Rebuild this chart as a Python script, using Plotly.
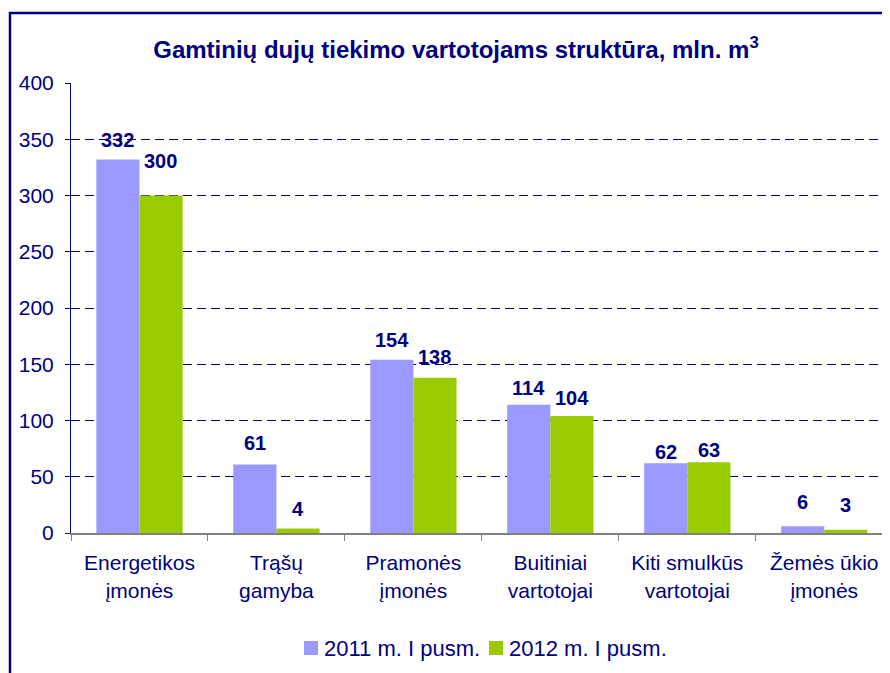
import plotly.graph_objects as go

categories = ["Energetikos<br>įmonės", "Trąšų<br>gamyba", "Pramonės<br>įmonės",
              "Buitiniai<br>vartotojai", "Kiti smulkūs<br>vartotojai", "Žemės ūkio<br>įmonės"]
series_names = ["2011 m. I pusm.", "2012 m. I pusm."]
series_2011 = [332, 61, 154, 114, 62, 6]
series_2012 = [300, 4, 138, 104, 63, 3]
y_ticks = [0, 50, 100, 150, 200, 250, 300, 350, 400]

# label placement (pixels above bar top, as in the reference)
label_lift_2011 = [19.5, 21.5, 19.5, 17, 11.5, 24.5]
label_lift_2012 = [35, 20, 20.5, 18.5, 12.5, 25]

NAVY = "#000080"
COLORS = ["#9999FF", "#99CC00"]
FONT = "Arial, Liberation Sans, sans-serif"

# page has an 8px body margin; figure sized to fit the window
OFF = 8
W, H = 890 - OFF, 673 - OFF
L, R, T = 71 - OFF, 0, 83 - OFF
B = H - (533 - OFF)
pw, ph = W - L - R, H - T - B


def px(page_x):
    return (page_x - OFF - L) / pw


def py(page_y):
    return ((533 - OFF) - (page_y - OFF)) / ph


fig = go.Figure()
for name, vals, col in zip(series_names, [series_2011, series_2012], COLORS):
    fig.add_trace(go.Bar(x=categories, y=vals, name=name,
                         marker=dict(color=col, line=dict(width=0))))

annotations = []
for i, cat in enumerate(categories):
    for v, xs, lift in ((series_2011[i], -21.5, label_lift_2011[i]),
                        (series_2012[i], 21.5, label_lift_2012[i])):
        annotations.append(dict(x=cat, y=v, xref="x", yref="y", text=f"<b>{v}</b>",
                                showarrow=False, xshift=xs, yshift=lift, yanchor="middle",
                                font=dict(family=FONT, size=20, color=NAVY)))

# legend drawn by hand for exact spacing
shapes = [dict(type="rect", xref="paper", yref="paper",
               x0=px(10), x1=1.2, y0=-0.6, y1=py(13),
               line=dict(color=NAVY, width=2.5), fillcolor="rgba(0,0,0,0)", layer="below")]
legend_x = [304, 489]
for name, col, lx in zip(series_names, COLORS, legend_x):
    shapes.append(dict(type="rect", xref="paper", yref="paper",
                       x0=px(lx), x1=px(lx + 14), y0=py(655), y1=py(641),
                       line=dict(width=0), fillcolor=col))
    annotations.append(dict(x=px(lx + 18), y=py(648), xref="paper", yref="paper",
                            text=name, showarrow=False, xanchor="left", yanchor="middle",
                            font=dict(family=FONT, size=22, color=NAVY)))

fig.update_layout(
    width=W, height=H,
    margin=dict(l=L, r=R, t=T, b=B),
    paper_bgcolor="white", plot_bgcolor="white",
    barmode="group", bargap=0.37, bargroupgap=0,
    showlegend=False,
    font=dict(family=FONT, size=21, color=NAVY),
    title=dict(text="<b>Gamtinių dujų tiekimo vartotojams struktūra, mln. m<sup>3</sup></b>",
               x=(456 - OFF) / W, xanchor="center", y=1 - (50 - OFF) / H, yanchor="middle",
               font=dict(family=FONT, size=24, color=NAVY)),
    xaxis=dict(range=[-0.5, 5.48], showline=True, linecolor="#808080", linewidth=2,
               ticks="outside", tickson="boundaries", ticklen=6, tickcolor="#808080",
               ticklabelstandoff=10,
               tickfont=dict(family=FONT, size=21, color=NAVY), showgrid=False),
    yaxis=dict(range=[0, 400], tickvals=y_ticks, showline=True, linecolor=NAVY, linewidth=1,
               ticks="outside", ticklen=5, tickcolor=NAVY, ticklabelstandoff=7,
               tickfont=dict(family=FONT, size=21, color=NAVY),
               showgrid=True, gridcolor=NAVY, gridwidth=1, griddash="9px,5px", zeroline=False),
    annotations=annotations,
    shapes=shapes,
)

fig.write_html("out.html")
